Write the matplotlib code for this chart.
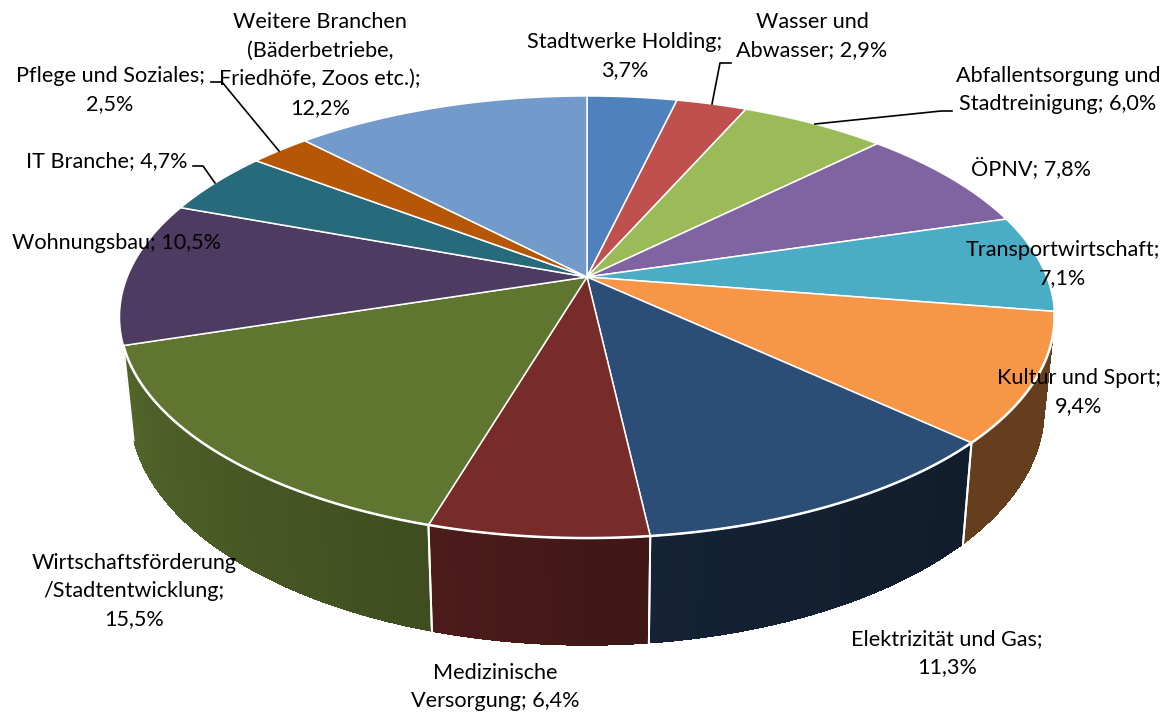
import numpy as np
import matplotlib
matplotlib.use("Agg")
import matplotlib.pyplot as plt

plt.rcParams['font.family'] = ['Lato', 'DejaVu Sans']

# slices, clockwise from 12 o'clock
labels = ["Stadtwerke Holding;\n3,7%", "Wasser und\nAbwasser; 2,9%",
          "Abfallentsorgung und\nStadtreinigung; 6,0%", "ÖPNV; 7,8%",
          "Transportwirtschaft;\n7,1%", "Kultur und Sport;\n9,4%",
          "Elektrizität und Gas;\n11,3%", "Medizinische\nVersorgung; 6,4%",
          "Wirtschaftsförderung\n/Stadtentwicklung;\n15,5%", "Wohnungsbau; 10,5%",
          "IT Branche; 4,7%", "Pflege und Soziales;\n2,5%",
          "Weitere Branchen\n(Bäderbetriebe,\nFriedhöfe, Zoos etc.);\n12,2%"]
values = [3.7, 2.9, 6.0, 7.8, 7.1, 9.4, 11.3, 6.4, 15.5, 10.5, 4.7, 2.5, 12.2]
colors = ["#4f81bd", "#c0504d", "#9bbb59", "#8064a2", "#4bacc6", "#f79646", "#2c4d75",
          "#772c2a", "#5f7530", "#4d3b62", "#276a7c", "#b65708", "#729aca"]

# darkening of the rim at start and end of the slices that show a rim
rim_shade = {5: (.41, .41), 6: (.37, .45), 7: (.52, .64), 8: (.66, .87)}

label_x = [625, 812, 1058, 1031, 1063, 1079, 947, 495, 134, 117, 107, 110, 320]
label_y = [56, 36, 90, 168, 264, 392, 653, 687, 591, 243, 161, 90, 65]

leaders = [[(731, 63), (720, 63), (712, 104)],
           [(952, 111), (941, 111), (815, 124)],
           [(211, 82), (222, 82), (279, 151)],
           [(193, 166), (203, 166), (215, 183)]]

# perspective of the disc, in pixels
cx, cy = 587, 277
A, B, k = 459.8, 213.8, 0.181
# bottom of the rim relative to the top
sx, sy, cy_low = 0.978, 1.064, 367.5


def project(a):
    u, v = np.sin(a), np.cos(a)
    d = 1 + k * v
    return cx + A * u / d, cy - B * v / d


def project_low(a):
    x, y = project(a)
    return cx + sx * (x - cx), cy_low + sy * (y - cy)


fig = plt.figure(figsize=(11.7, 7.15), dpi=100)
ax = fig.add_axes([0, 0, 1, 1])
ax.set_xlim(0, 1170)
ax.set_ylim(715, 0)
ax.axis('off')

edges = np.cumsum([0] + values) / sum(values) * 2 * np.pi

# rim first
for i, (s0, s1) in rim_shade.items():
    base = np.array(matplotlib.colors.to_rgb(colors[i]))
    a = np.linspace(edges[i], edges[i + 1], 80)
    x1, y1 = project(a)
    x2, y2 = project_low(a[::-1])
    ax.fill(np.r_[x1, x2], np.r_[y1, y2], color=base * (s0 + s1) / 2, lw=0, zorder=2)
    steps = int(values[i] * 3)
    ang = np.linspace(edges[i], edges[i + 1], steps + 1)
    for j in range(steps):
        c = base * (s0 + (s1 - s0) * (j + .5) / steps)
        a = np.linspace(ang[j], ang[j + 1] + .004, 4)
        x1, y1 = project(a)
        x2, y2 = project_low(a[::-1])
        ax.fill(np.r_[x1, x2], np.r_[y1, y2], color=c, lw=0, antialiased=False, zorder=2)
    for e in (edges[i], edges[i + 1]):
        x1, y1 = project(e)
        x2, y2 = project_low(e)
        if e != edges[5]:
            ax.plot([x1, x2], [y1, y2], color='white', lw=1.4, zorder=3)

# top of the pie
for i in range(len(values)):
    a = np.linspace(edges[i], edges[i + 1], 80)
    x, y = project(a)
    ax.fill(np.r_[cx, x], np.r_[cy, y], facecolor=colors[i], edgecolor='white', lw=1.1,
            joinstyle='round', zorder=4)
    if i in rim_shade:
        ax.plot(x, y, color='white', lw=1.8, zorder=5)

for pts in leaders:
    ax.plot([p[0] for p in pts], [p[1] for p in pts], color='black', lw=1.2, zorder=6)

for i in range(len(labels)):
    ax.text(label_x[i], label_y[i], labels[i], ha='center', va='center', fontsize=15.6,
            linespacing=1.53, color='black', zorder=7)

fig.savefig("out.png", dpi=100)
